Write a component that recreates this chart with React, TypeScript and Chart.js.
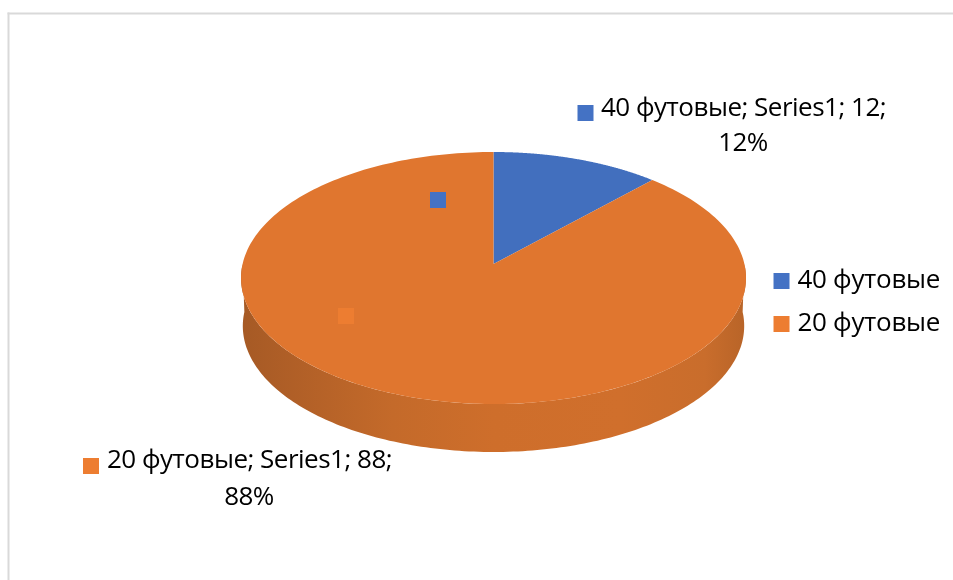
import React, { useEffect, useRef } from "react";
import { Chart, registerables } from "chart.js";

Chart.register(...registerables);

const categories = ["40 футовые", "20 футовые"];
const seriesName = "Series1";
const seriesValues = [12, 88];
const sliceColors = ["#4472C4", "#ED7D31"];
const topColors = ["#426FBE", "#E0762F"];

const FONT_FAMILY = '"Open Sans", "Noto Sans", sans-serif';
const FONT_SIZE = 26;

// Placement of each data label: marker's left/top, first-line text left, centre of second line, baselines
const labelLayout = [
  { mx: 577.5, my: 105, tx: 601, cx: 743, y1: 116, y2: 151 },
  { mx: 83, my: 458, tx: 107, cx: 249, y1: 468, y2: 505 },
];
// Stray label keys sitting on the pie
const pieKeys = [
  { x: 430, y: 192 },
  { x: 338, y: 308 },
];

// Projective view of the disc
const view = { cx: 493.5, cy: 264, b: 250.9, a: 124.44, k: 1 / 9, depth: 48, shrink: 0.993 };

function project(angle: number) {
  const u = Math.cos(angle);
  const v = Math.sin(angle);
  const d = 1 - view.k * v;
  return { x: view.cx + (view.b * u) / d, y: view.cy + (view.a * v) / d };
}

const piePlugin = {
  id: "perspectivePie",
  beforeDraw(chart: any) {
    const { ctx, width, height } = chart;
    ctx.save();
    ctx.fillStyle = "#ffffff";
    ctx.fillRect(0, 0, width, height);
    ctx.fillStyle = "#D9D9D9";
    ctx.fillRect(7.5, 12.5, width, 2);
    ctx.fillRect(7.5, 12.5, 2, height);
    ctx.restore();
    ctx.letterSpacing = "-0.3px";
  },
  beforeDatasetsDraw(chart: any) {
    const { ctx } = chart;
    const arcs = chart.getDatasetMeta(0).data;
    ctx.save();
    // side wall (only the front half is visible)
    const grad = ctx.createLinearGradient(view.cx - 252, 0, view.cx + 252, 0);
    grad.addColorStop(0, "#A65A25");
    grad.addColorStop(0.1, "#B05F27");
    grad.addColorStop(0.3, "#C46A2A");
    grad.addColorStop(0.5, "#CE6E2B");
    grad.addColorStop(0.75, "#D06F2C");
    grad.addColorStop(0.92, "#C96D2C");
    grad.addColorStop(1, "#B86428");
    arcs.forEach((arc: any) => {
      const from = Math.max(arc.startAngle, 0);
      const to = Math.min(arc.endAngle, Math.PI);
      if (to <= from) return;
      const steps = 180;
      ctx.beginPath();
      for (let i = 0; i <= steps; i++) {
        const p = project(from + ((to - from) * i) / steps);
        if (i === 0) ctx.moveTo(p.x, p.y);
        else ctx.lineTo(p.x, p.y);
      }
      for (let i = steps; i >= 0; i--) {
        const p = project(from + ((to - from) * i) / steps);
        ctx.lineTo(view.cx + (p.x - view.cx) * view.shrink, p.y + view.depth);
      }
      ctx.closePath();
      ctx.fillStyle = grad;
      ctx.fill();
    });
    // top face
    arcs.forEach((arc: any, idx: number) => {
      const steps = 240;
      ctx.beginPath();
      ctx.moveTo(view.cx, view.cy);
      for (let i = 0; i <= steps; i++) {
        const p = project(arc.startAngle + ((arc.endAngle - arc.startAngle) * i) / steps);
        ctx.lineTo(p.x, p.y);
      }
      ctx.closePath();
      ctx.fillStyle = topColors[idx];
      ctx.fill();
    });
    ctx.restore();
    return false;
  },
  afterDraw(chart: any) {
    const { ctx } = chart;
    const total = seriesValues.reduce((a, b) => a + b, 0);
    ctx.save();
    ctx.font = `${FONT_SIZE}px ${FONT_FAMILY}`;
    ctx.letterSpacing = "-0.5px";
    ctx.textBaseline = "alphabetic";
    categories.forEach((cat, i) => {
      const l = labelLayout[i];
      ctx.fillStyle = sliceColors[i];
      ctx.fillRect(l.mx, l.my, 16, 16);
      ctx.fillRect(pieKeys[i].x, pieKeys[i].y, 16, 16);
      ctx.fillStyle = "#000000";
      ctx.textAlign = "left";
      ctx.fillText(`${cat}; ${seriesName}; ${seriesValues[i]};`, l.tx, l.y1);
      ctx.textAlign = "center";
      ctx.fillText(`${Math.round((seriesValues[i] / total) * 100)}%`, l.cx, l.y2);
    });
    ctx.restore();
  },
};

export default function App() {
  const ref = useRef<HTMLCanvasElement>(null);
  useEffect(() => {
    const base = (Chart as any).overrides.doughnut.plugins.legend.labels.generateLabels;
    const chart = new Chart(ref.current!, {
      type: "pie",
      data: {
        labels: categories,
        datasets: [{ label: seriesName, data: seriesValues, backgroundColor: sliceColors, borderWidth: 0 }],
      },
      options: {
        responsive: false,
        animation: false,
        devicePixelRatio: 1,
        layout: { padding: { top: 25, right: 0, bottom: 0, left: 0 } },
        plugins: {
          tooltip: { enabled: false },
          legend: {
            position: "right",
            labels: {
              boxWidth: 6,
              boxHeight: 6,
              padding: 17,
              color: "#000000",
              font: { family: FONT_FAMILY, size: FONT_SIZE },
              generateLabels: (c: any) =>
                base(c).map((item: any, i: number) => ({
                  ...item,
                  strokeStyle: sliceColors[i],
                  lineWidth: 10,
                })),
            },
          },
        },
      },
      plugins: [piePlugin],
    } as any);
    return () => chart.destroy();
  }, []);
  return (
    <canvas
      ref={ref}
      width={953}
      height={580}
      style={{ position: "absolute", left: 0, top: 0, display: "block" }}
    />
  );
}
